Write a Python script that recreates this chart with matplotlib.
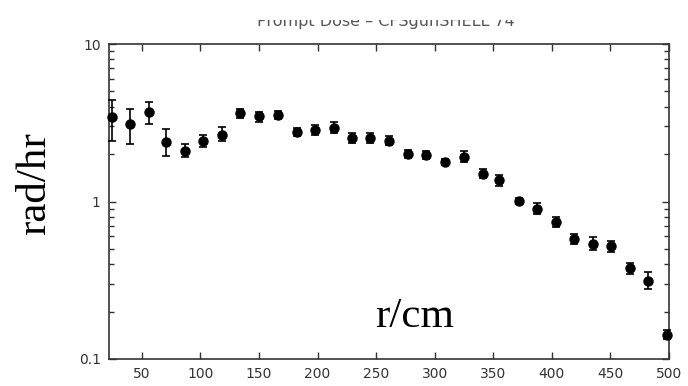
import numpy as np
import matplotlib
matplotlib.use("Agg")
import matplotlib.pyplot as plt
from matplotlib.patches import Rectangle
from matplotlib.ticker import LogLocator, FixedLocator, NullFormatter

# radial position (cm) and prompt dose (rad/hr) with error band
r = [24.4, 39.7, 56.0, 71.0, 87.0, 102.4, 118.6, 133.8, 149.8, 166.5,
     182.2, 198.1, 213.8, 229.7, 245.0, 261.4, 277.1, 292.7, 308.4, 324.6,
     340.9, 355.0, 372.2, 387.3, 403.5, 418.9, 435.1, 450.5, 466.4, 481.8,
     497.9]
dose = [3.44, 3.09, 3.72, 2.40, 2.10, 2.43, 2.66, 3.65, 3.49, 3.54,
        2.78, 2.83, 2.93, 2.52, 2.52, 2.43, 2.00, 1.97, 1.78, 1.92,
        1.50, 1.37, 1.01, 0.89, 0.74, 0.58, 0.54, 0.52, 0.376, 0.313,
        0.142]
dose_lo = [2.42, 2.31, 3.12, 1.94, 1.92, 2.22, 2.41, 3.37, 3.21, 3.33,
           2.62, 2.64, 2.71, 2.34, 2.34, 2.27, 1.88, 1.87, 1.70, 1.79,
           1.40, 1.25, 0.96, 0.833, 0.692, 0.537, 0.492, 0.476, 0.347, 0.277,
           0.133]
dose_hi = [4.41, 3.87, 4.28, 2.90, 2.32, 2.66, 2.96, 3.85, 3.72, 3.76,
           2.94, 3.06, 3.21, 2.71, 2.71, 2.60, 2.12, 2.09, 1.86, 2.10,
           1.60, 1.47, 1.06, 0.983, 0.80, 0.619, 0.598, 0.564, 0.405, 0.355,
           0.153]
xticks = [50, 100, 150, 200, 250, 300, 350, 400, 450, 500]
yticks = [0.1, 1, 10]
ytick_labels = ["0.1", "1", "10"]
title = "Prompt Dose – CFSgunSHELL 74"

W, H = 688, 386
fig = plt.figure(figsize=(W / 100, H / 100), dpi=100)
ax = fig.add_axes([109 / W, 1 - 359 / H, (669 - 109) / W, (359 - 44) / H])

dose = np.array(dose)
yerr = np.vstack([dose - np.array(dose_lo), np.array(dose_hi) - dose])
ax.errorbar(r, dose, yerr=yerr, fmt="o", color="black", ms=6.5,
            elinewidth=1.2, capsize=2.6, capthick=1.2, clip_on=False, zorder=3)

ax.set_yscale("log")
ax.set_xlim(22, 500)
ax.set_ylim(0.1, 10)

ax.xaxis.set_major_locator(FixedLocator(xticks))
ax.set_xticklabels([str(t) for t in xticks])
ax.yaxis.set_major_locator(FixedLocator(yticks))
ax.set_yticklabels(ytick_labels)
ax.yaxis.set_minor_locator(LogLocator(base=10, subs=np.arange(2, 10)))
ax.yaxis.set_minor_formatter(NullFormatter())

ax.tick_params(which="both", direction="in", top=True, right=True,
               color="#333333", labelcolor="#333333", labelsize=10)
ax.tick_params(which="major", length=5, width=1.0, pad=6)
ax.tick_params(which="minor", length=3.5, width=1.0)
for s in ax.spines.values():
    s.set_color("#333333")
    s.set_linewidth(1.2)

serif = ["Liberation Serif", "DejaVu Serif"]
fig.text(415 / W, 1 - 327 / H, "r/cm", family=serif, fontsize=31,
         ha="center", va="baseline")
fig.text(45 / W, 1 - 184 / H, "rad/hr", family=serif, fontsize=31,
         rotation=90, rotation_mode="anchor", ha="center", va="baseline")

# title, with its upper part trimmed off by the page edge
fig.text(386 / W, 1 - 26 / H, title, fontsize=11.5, color="#555555",
         ha="center", va="baseline")
fig.patches.append(Rectangle((0, 1 - 20 / H), 1, 20 / H, transform=fig.transFigure,
                             facecolor="white", edgecolor="none", zorder=10))

fig.savefig("out.png", dpi=100)
